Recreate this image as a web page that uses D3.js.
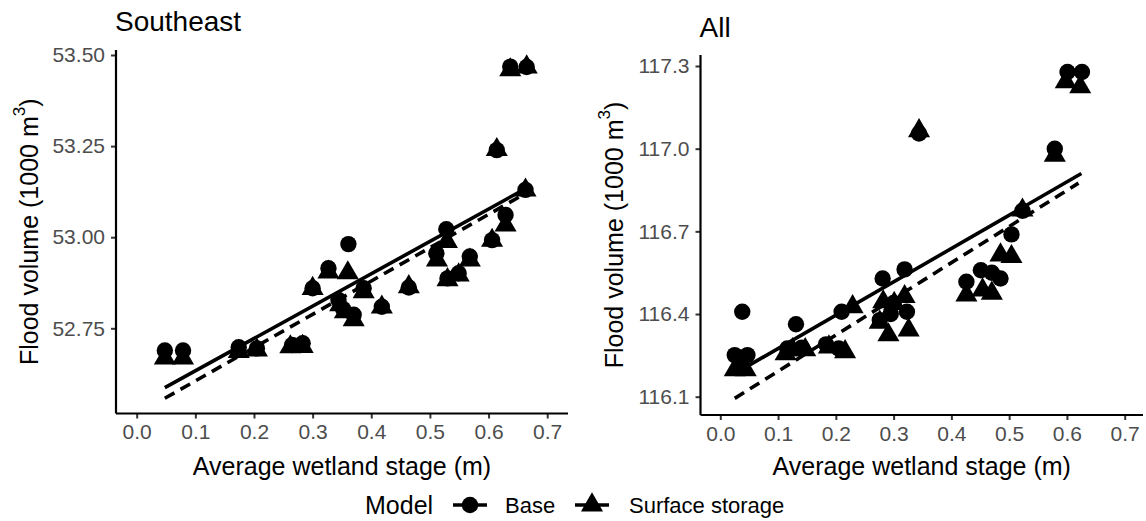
<!DOCTYPE html>
<html>
<head>
<meta charset="utf-8">
<script src="https://cdnjs.cloudflare.com/ajax/libs/d3/7.8.5/d3.min.js"></script>
<style>
  body { margin: 0; background: #fff; }
  svg { font-family: "Liberation Sans", Arial, sans-serif; }
</style>
</head>
<body>
<div class="chart"></div>
<script>
// ---- data ----
const xTicks = [0.0, 0.1, 0.2, 0.3, 0.4, 0.5, 0.6, 0.7]
const seYTicks = [52.75, 53.00, 53.25, 53.50]
const allYTicks = [116.1, 116.4, 116.7, 117.0, 117.3]

// Southeast
const seStageBase = [0.048, 0.079, 0.174, 0.205, 0.265, 0.283, 0.300, 0.327, 0.361, 0.344, 0.370, 0.387, 0.418,
    0.464, 0.528, 0.511, 0.530, 0.549, 0.568, 0.606, 0.629, 0.614, 0.637, 0.665, 0.663, 0.352]
const seVolBase = [52.689, 52.689, 52.698, 52.695, 52.704, 52.709, 52.860, 52.915, 52.981, 52.828, 52.787, 52.860, 52.809,
    52.862, 53.022, 52.956, 52.887, 52.901, 52.947, 52.992, 53.061, 53.239, 53.468, 53.467, 53.130, 52.803]
const seStageSurf = [0.048, 0.079, 0.174, 0.205, 0.262, 0.283, 0.300, 0.327, 0.360, 0.347, 0.370, 0.387, 0.418,
    0.464, 0.529, 0.512, 0.530, 0.549, 0.568, 0.606, 0.629, 0.614, 0.637, 0.665, 0.663, 0.355]
const seVolSurf = [52.668, 52.668, 52.686, 52.690, 52.699, 52.700, 52.859, 52.904, 52.902, 52.814, 52.773, 52.850, 52.808,
    52.864, 52.988, 52.937, 52.883, 52.896, 52.937, 52.991, 53.033, 53.240, 53.459, 53.467, 53.129, 52.795]
const seFitBase = [[0.048, 52.587], [0.665, 53.135]]
const seFitSurf = [[0.048, 52.558], [0.665, 53.122]]

// All
const allStageBase = [0.038, 0.025, 0.047, 0.131, 0.116, 0.141, 0.210, 0.183, 0.205, 0.281, 0.319, 0.276, 0.323,
    0.295, 0.300, 0.344, 0.426, 0.451, 0.485, 0.504, 0.470, 0.523, 0.579, 0.601, 0.626]
const allVolBase = [116.408, 116.251, 116.251, 116.363, 116.275, 116.278, 116.408, 116.290, 116.275, 116.529, 116.562, 116.378, 116.408,
    116.400, 116.440, 117.055, 116.517, 116.559, 116.529, 116.689, 116.550, 116.775, 117.000, 117.278, 117.278]
const allStageSurf = [0.044, 0.025, 0.035, 0.125, 0.113, 0.147, 0.229, 0.188, 0.216, 0.282, 0.319, 0.276, 0.326,
    0.291, 0.301, 0.344, 0.426, 0.454, 0.470, 0.504, 0.485, 0.523, 0.579, 0.598, 0.623]
const allVolSurf = [116.197, 116.197, 116.200, 116.270, 116.255, 116.270, 116.426, 116.280, 116.263, 116.444, 116.463, 116.370, 116.342,
    116.324, 116.438, 117.065, 116.469, 116.487, 116.475, 116.608, 116.614, 116.777, 116.976, 117.242, 117.224]
const allFitBase = [[0.030, 116.190], [0.625, 116.910]]
const allFitSurf = [[0.025, 116.094], [0.620, 116.875]]

const models = ["Base", "Surface storage"]

// ---- layout ----
const width = 1146
const height = 521
const R = 8.2

const svg = d3.select(".chart").append("svg")
    .attr("width", width)
    .attr("height", height)

svg.append("rect").attr("width", width).attr("height", height).attr("fill", "#fff")

const zip = (xs, ys) => xs.map((x, i) => ({ x: x, y: ys[i] }))

const panels = [
    {
        title: "Southeast", titleY: 30.5, left: 116, right: 568, top: 50, bottom: 413.5,
        x: d3.scaleLinear().domain([0, 0.7]).range([136.7, 547.2]),
        y: d3.scaleLinear().domain([52.75, 53.5]).range([328.3, 55]),
        yTicks: seYTicks, yFmt: d3.format(".2f"),
        base: zip(seStageBase, seVolBase), surf: zip(seStageSurf, seVolSurf),
        fitBase: seFitBase, fitSurf: seFitSurf
    },
    {
        title: "All", titleY: 36.5, left: 700.5, right: 1143, top: 55, bottom: 415,
        x: d3.scaleLinear().domain([0, 0.7]).range([720.3, 1124.7]),
        y: d3.scaleLinear().domain([116.1, 117.3]).range([396.7, 66]),
        yTicks: allYTicks, yFmt: d3.format(".1f"),
        base: zip(allStageBase, allVolBase), surf: zip(allStageSurf, allVolSurf),
        fitBase: allFitBase, fitSurf: allFitSurf
    }
]

// triangle like R's pch 17, centred on its circumcentre
function triPath(r) {
    return "M0," + (-1.555 * r) + "L" + (1.347 * r) + "," + (0.778 * r) + "L" + (-1.347 * r) + "," + (0.778 * r) + "Z"
}

panels.forEach(function (p) {
    const g = svg.append("g")

    // points
    g.selectAll(".tri").data(p.surf).enter()
        .append("path")
        .attr("d", triPath(R))
        .attr("transform", d => "translate(" + p.x(d.x) + "," + p.y(d.y) + ")")
        .attr("fill", "#000")
    g.selectAll(".dot").data(p.base).enter()
        .append("circle")
        .attr("cx", d => p.x(d.x))
        .attr("cy", d => p.y(d.y))
        .attr("r", R)
        .attr("fill", "#000")

    // fitted lines
    const line = d3.line().x(d => p.x(d[0])).y(d => p.y(d[1]))
    g.append("path").attr("d", line(p.fitBase))
        .attr("fill", "none").attr("stroke", "#000").attr("stroke-width", 3.6)
    g.append("path").attr("d", line(p.fitSurf))
        .attr("fill", "none").attr("stroke", "#000").attr("stroke-width", 3.6)
        .attr("stroke-dasharray", "11,7")

    // x axis
    const xAxis = g.append("g")
        .attr("transform", "translate(0," + p.bottom + ")")
        .call(d3.axisBottom(p.x).tickValues(xTicks).tickFormat(d3.format(".1f")).tickSize(5).tickPadding(6))
    xAxis.select(".domain").remove()
    xAxis.selectAll("line").attr("stroke", "#333").attr("stroke-width", 2)
    xAxis.selectAll("text").attr("fill", "#4d4d4d").style("font-size", "21px")
        .attr("font-family", "Liberation Sans, Arial, sans-serif")

    // y axis
    const yAxis = g.append("g")
        .attr("transform", "translate(" + p.left + ",0)")
        .call(d3.axisLeft(p.y).tickValues(p.yTicks).tickFormat(p.yFmt).tickSize(5).tickPadding(6))
    yAxis.select(".domain").remove()
    yAxis.selectAll("line").attr("stroke", "#333").attr("stroke-width", 2)
    yAxis.selectAll("text").attr("fill", "#4d4d4d").style("font-size", "21px")
        .attr("font-family", "Liberation Sans, Arial, sans-serif")

    // axis lines
    g.append("line")
        .attr("x1", p.left).attr("x2", p.right).attr("y1", p.bottom).attr("y2", p.bottom)
        .attr("stroke", "#000").attr("stroke-width", 2.2)
    g.append("line")
        .attr("x1", p.left).attr("x2", p.left).attr("y1", p.top).attr("y2", p.bottom)
        .attr("stroke", "#000").attr("stroke-width", 2.2)

    // titles
    g.append("text")
        .attr("x", p.left - 1).attr("y", p.titleY)
        .style("font-size", "28px")
        .text(p.title)

    g.append("text")
        .attr("x", (p.left + p.right) / 2).attr("y", 475)
        .attr("text-anchor", "middle")
        .style("font-size", "25px")
        .text("Average wetland stage (m)")

    const yt = g.append("text")
        .attr("transform", "translate(" + (p.left - 87) + "," + ((p.top + p.bottom) / 2) + ") rotate(-90)")
        .attr("text-anchor", "middle")
        .attr("dominant-baseline", "central")
        .style("font-size", "25px")
    yt.append("tspan").text("Flood volume (1000 m")
    yt.append("tspan").attr("baseline-shift", "super").style("font-size", "17px").text("3")
    yt.append("tspan").text(")")
})

// legend
const legend = svg.append("g").attr("class", "legend")
const legendY = 505
legend.append("text")
    .attr("x", 365).attr("y", 514)
    .style("font-size", "25px")
    .text("Model")

const legendItems = [
    { model: models[0], keyX: 470, textX: 505, shape: "circle" },
    { model: models[1], keyX: 592, textX: 629, shape: "triangle" }
]

legendItems.forEach(function (d) {
    legend.append("line")
        .attr("x1", d.keyX - 17).attr("x2", d.keyX + 17)
        .attr("y1", legendY).attr("y2", legendY)
        .attr("stroke", "#000").attr("stroke-width", 3.6)
    if (d.shape === "circle") {
        legend.append("circle").attr("cx", d.keyX).attr("cy", legendY).attr("r", R).attr("fill", "#000")
    } else {
        legend.append("path").attr("d", triPath(R))
            .attr("transform", "translate(" + d.keyX + "," + legendY + ")").attr("fill", "#000")
    }
    legend.append("text")
        .attr("x", d.textX).attr("y", 513)
        .style("font-size", "22px")
        .text(d.model)
})
</script>
</body>
</html>
